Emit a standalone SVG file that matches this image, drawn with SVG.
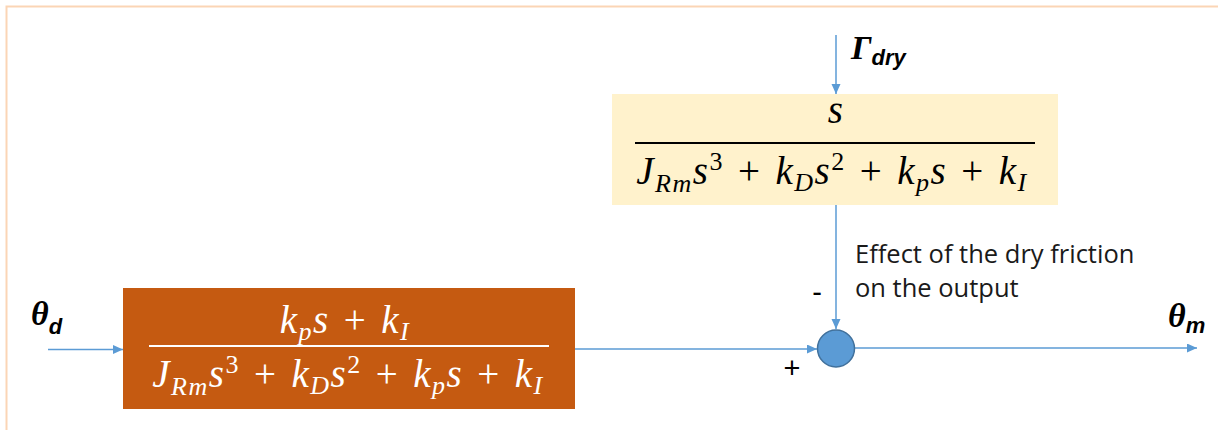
<svg xmlns="http://www.w3.org/2000/svg" width="1218" height="430" viewBox="0 0 1218 430">
<style>
.conn{stroke:#5B9BD5;stroke-width:1.5;fill:none}
.math{font-family:"Liberation Serif",serif;font-style:italic;font-size:39px;letter-spacing:1.5px}
.up{font-style:normal}
.sub{font-size:26px}
.lbl{font-family:"Open Sans","Noto Sans",sans-serif;font-size:25.5px;fill:#1a1a1a}
.sig{font-family:"Liberation Serif",serif;font-style:italic;font-weight:bold;font-size:34px;fill:#000}
.sigsub{font-family:"Liberation Sans",sans-serif;font-style:italic;font-weight:bold;font-size:22px}
.pm{font-family:"Liberation Sans",sans-serif;font-size:29px;fill:#000}
</style>
<defs>
<marker id="ah" markerUnits="userSpaceOnUse" markerWidth="11" markerHeight="10" refX="10" refY="4.5" orient="auto">
<path d="M0,0 L10,4.5 L0,9 z" fill="#5B9BD5"/>
</marker>
</defs>
<g id="frame">
<path d="M6.5,430 V6.5 H1218" fill="none" stroke="#FBD5B5" stroke-width="2"/>
</g>
<g id="connectors">
<line class="conn" x1="836" y1="35" x2="836" y2="94" marker-end="url(#ah)"/>
<line class="conn" x1="836" y1="205" x2="836" y2="329" marker-end="url(#ah)"/>
<line class="conn" x1="48" y1="349.5" x2="123" y2="349.5" marker-end="url(#ah)"/>
<line class="conn" x1="575" y1="349" x2="817" y2="349" marker-end="url(#ah)"/>
<line class="conn" x1="855" y1="348" x2="1197" y2="348" marker-end="url(#ah)"/>
</g>
<g id="controller">
<rect x="123" y="288" width="452" height="121" fill="#C55A11"/>
<line x1="149" y1="346" x2="549" y2="346" stroke="#FFFFFF" stroke-width="2"/>
<text class="math" fill="#FFFFFF" x="345" y="333" text-anchor="middle">k<tspan class="sub" dy="7">p</tspan><tspan dy="-7">s</tspan><tspan class="up" dx="14">+</tspan><tspan dx="14">k</tspan><tspan class="sub" dy="7">I</tspan></text>
<text class="math" fill="#FFFFFF" x="348" y="387" text-anchor="middle">J<tspan class="sub" dy="8">Rm</tspan><tspan dy="-8">s</tspan><tspan class="sub up" dy="-14">3</tspan><tspan class="up" dy="14" dx="14">+</tspan><tspan dx="14">k</tspan><tspan class="sub" dy="7">D</tspan><tspan dy="-7">s</tspan><tspan class="sub up" dy="-14">2</tspan><tspan class="up" dy="14" dx="14">+</tspan><tspan dx="14">k</tspan><tspan class="sub" dy="7">p</tspan><tspan dy="-7">s</tspan><tspan class="up" dx="14">+</tspan><tspan dx="14">k</tspan><tspan class="sub" dy="7">I</tspan></text>
</g>
<g id="friction-tf">
<rect x="612" y="94" width="446" height="111" fill="#FFF2CC"/>
<line x1="635" y1="143" x2="1035" y2="143" stroke="#000000" stroke-width="2"/>
<text class="math" fill="#000" x="836" y="123" text-anchor="middle">s</text>
<text class="math" fill="#000" x="832" y="184" text-anchor="middle">J<tspan class="sub" dy="8">Rm</tspan><tspan dy="-8">s</tspan><tspan class="sub up" dy="-14">3</tspan><tspan class="up" dy="14" dx="14">+</tspan><tspan dx="14">k</tspan><tspan class="sub" dy="7">D</tspan><tspan dy="-7">s</tspan><tspan class="sub up" dy="-14">2</tspan><tspan class="up" dy="14" dx="14">+</tspan><tspan dx="14">k</tspan><tspan class="sub" dy="7">p</tspan><tspan dy="-7">s</tspan><tspan class="up" dx="14">+</tspan><tspan dx="14">k</tspan><tspan class="sub" dy="7">I</tspan></text>
</g>
<g id="sum">
<circle cx="836" cy="348.5" r="18.5" fill="#5B9BD5" stroke="#41719C" stroke-width="1.5"/>
<text class="pm" x="792" y="378" text-anchor="middle">+</text>
<text class="pm" x="817" y="302" text-anchor="middle">-</text>
</g>
<g id="labels">
<text class="sig" x="851" y="59" font-size="36">Γ<tspan class="sigsub" dy="6">dry</tspan></text>
<text class="sig" x="31" y="325">θ<tspan class="sigsub" dy="9">d</tspan></text>
<text class="sig" x="1168" y="327">θ<tspan class="sigsub" dy="6">m</tspan></text>
<text class="lbl" x="855" y="263">Effect of the dry friction</text>
<text class="lbl" x="855" y="297">on the output</text>
</g>
</svg>
